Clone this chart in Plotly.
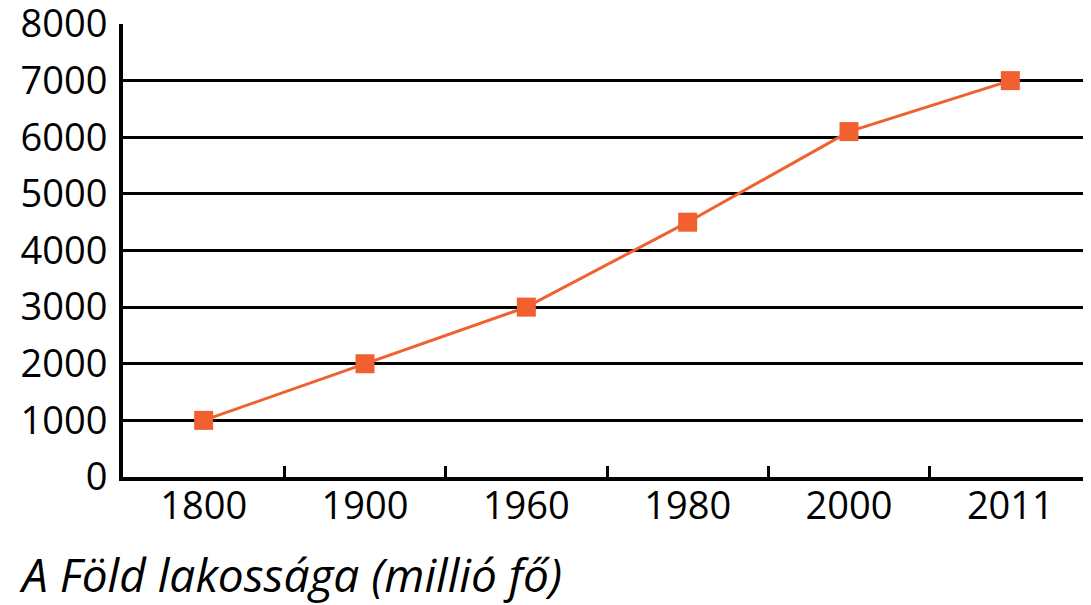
import plotly.graph_objects as go

years = ["1800", "1900", "1960", "1980", "2000", "2011"]
population = [1000, 2000, 3000, 4500, 6100, 7000]
y_ticks = [0, 1000, 2000, 3000, 4000, 5000, 6000, 7000, 8000]
title_text = "A Föld lakossága (millió fő)"

orange = "#F06030"
font_family = "Open Sans, Noto Sans, sans-serif"

W, H = 1083, 597
L, R, T, B = 115, 0, 16, 128
plot_w = W - L - R
plot_h = H - T - B

fig = go.Figure()
fig.add_trace(go.Scatter(
    x=years, y=population, mode="lines+markers",
    line=dict(color=orange, width=3),
    marker=dict(symbol="square", size=19, color=orange),
    showlegend=False, cliponaxis=False,
))

fig.update_layout(
    width=W, height=H,
    margin=dict(l=L, r=R, t=T, b=B, pad=0, autoexpand=False),
    plot_bgcolor="white", paper_bgcolor="white",
    font=dict(family=font_family, color="black", size=38),
    xaxis=dict(
        type="category", range=[-0.5, 5.5], automargin=False,
        showline=True, linecolor="black", linewidth=4,
        ticks="inside", tickson="boundaries", ticklen=11, tickwidth=3, tickcolor="black",
        showgrid=False, ticklabelstandoff=-8, ticklabeloverflow="allow",
        tickfont=dict(size=38, family=font_family),
    ),
    yaxis=dict(
        range=[0, 8000], tickvals=y_ticks, automargin=False,
        showline=True, linecolor="black", linewidth=4,
        showgrid=True, gridcolor="black", gridwidth=3,
        zeroline=False, ticks="", ticklabelstandoff=4, ticklabeloverflow="allow",
        tickfont=dict(size=38, family=font_family),
    ),
)

fig.add_annotation(
    text=f"<i>{title_text}</i>", xref="paper", yref="paper",
    x=(9 - L) / plot_w, y=-(566 - (H - B)) / plot_h,
    xanchor="left", yanchor="middle",
    showarrow=False, font=dict(size=46, family=font_family, color="black"),
)

fig.write_html("out.html")
